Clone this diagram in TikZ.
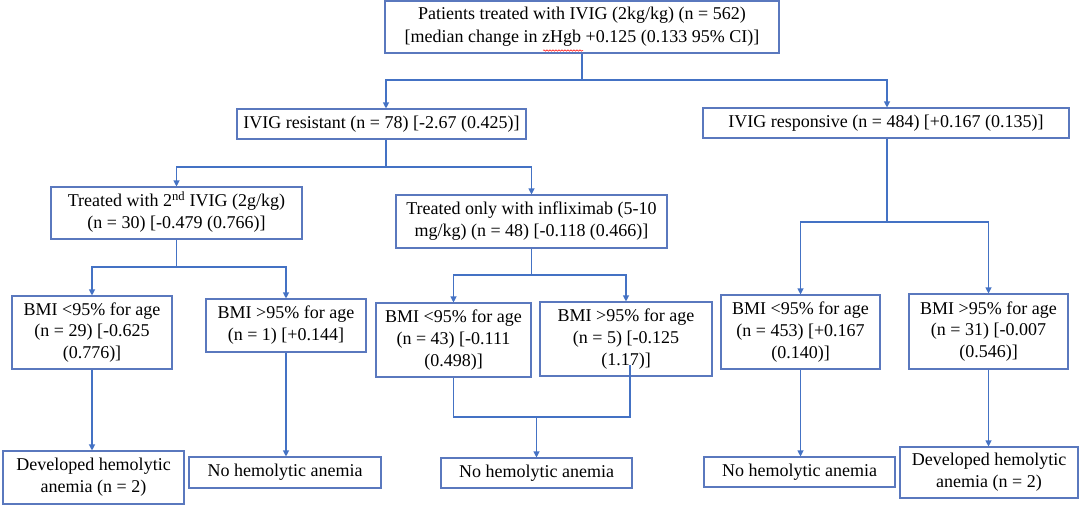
\documentclass[tikz,border=0pt]{standalone}
\usepackage{fontspec}
\setmainfont{Liberation Serif}
\usetikzlibrary{arrows.meta,decorations.pathmorphing}
\definecolor{linec}{RGB}{68,114,196}
\definecolor{boxc}{RGB}{90,120,190}
\newcommand{\mlines}[1]{\begin{tabular}{@{}c@{}}#1\end{tabular}}
\tikzset{
  box/.style={draw=boxc, line width=1.1pt, fill=white, inner sep=0pt,
    font=\fontsize{18}{21.7}\selectfont},
  conn/.style={draw=linec, line width=1.1pt},
  arr/.style={conn, -{Triangle[length=6pt,width=6pt]}}
}
\begin{document}
\begin{tikzpicture}[x=1pt,y=-1pt]
\useasboundingbox (0,0) rectangle (1084,511);
% nodes
\node[box, minimum width=394, minimum height=52] (top) at (582,27)
  {\mlines{Patients treated with IVIG (2kg/kg) (n = 562)\\[1pt]{[}median change in zHgb +0.125 (0.133 95\% CI)]}};
\node[box, minimum width=289, minimum height=30] (res) at (381.5,124)
  {IVIG resistant (n = 78) [-2.67 (0.425)]};
\node[box, minimum width=366, minimum height=30] (resp) at (886,123)
  {IVIG responsive (n = 484) [+0.167 (0.135)]};
\node[box, minimum width=251, minimum height=52] (t2) at (176.5,213)
  {\mlines{Treated with 2\textsuperscript{nd} IVIG (2g/kg)\\(n = 30) [-0.479 (0.766)]}};
\node[box, minimum width=271, minimum height=53] (inf) at (531.5,221.5)
  {\mlines{Treated only with infliximab (5-10\\mg/kg) (n = 48) [-0.118 (0.466)]}};
\node[box, minimum width=160, minimum height=73] (b1) at (92,332.5)
  {\mlines{BMI <95\% for age\\(n = 29) {[}-0.625\\(0.776)]}};
\node[box, minimum width=160, minimum height=53] (b2) at (286,325.5)
  {\mlines{BMI >95\% for age\\(n = 1) [+0.144]}};
\node[box, minimum width=155, minimum height=74] (b3) at (453.5,340)
  {\mlines{BMI <95\% for age\\(n = 43) {[}-0.111\\(0.498)]}};
\node[box, minimum width=172, minimum height=74] (b4) at (626,339)
  {\mlines{BMI >95\% for age\\(n = 5) {[}-0.125\\(1.17)]}};
\node[box, minimum width=159, minimum height=74] (b5) at (800.5,332)
  {\mlines{BMI <95\% for age\\(n = 453) {[}+0.167\\(0.140)]}};
\node[box, minimum width=159, minimum height=75] (b6) at (988.5,331.5)
  {\mlines{BMI >95\% for age\\(n = 31) {[}-0.007\\(0.546)]}};
\node[box, minimum width=181, minimum height=53] (d1) at (93.5,477.5)
  {\mlines{Developed hemolytic\\anemia (n = 2)}};
\node[box, minimum width=192, minimum height=31] (n1) at (285,472.5)
  {No hemolytic anemia};
\node[box, minimum width=191, minimum height=30] (n2) at (536.5,473)
  {No hemolytic anemia};
\node[box, minimum width=191, minimum height=30] (n3) at (799.5,472)
  {No hemolytic anemia};
\node[box, minimum width=178, minimum height=51] (d2) at (989,472.5)
  {\mlines{Developed hemolytic\\anemia (n = 2)}};
% junction coordinates
\coordinate (j1) at (582,80);
\coordinate (j2) at (386,167);
\coordinate (j3) at (176.5,267);
\coordinate (j4) at (531.5,275);
\coordinate (j5) at (887,222);
\coordinate (b4in) at (630,365);
\coordinate (j6) at (536.5,417);
% connectors
\draw[conn] (top.south) -- (j1);
\draw[arr] (j1) -| ([xshift=4.5pt]res.north);
\draw[arr] (j1) -| ([xshift=1pt]resp.north);
\draw[conn] ([xshift=4.5pt]res.south) -- (j2);
\draw[arr] (j2) -| (t2.north);
\draw[arr] (j2) -| (inf.north);
\draw[conn] (t2.south) -- (j3);
\draw[arr] (j3) -| (b1.north);
\draw[arr] (j3) -| (b2.north);
\draw[conn] (inf.south) -- (j4);
\draw[arr] (j4) -| (b3.north);
\draw[arr] (j4) -| (b4.north);
\draw[conn] ([xshift=1pt]resp.south) -- (j5);
\draw[arr] (j5) -| (b5.north);
\draw[arr] (j5) -| (b6.north);
\draw[arr] (b1.south) -- (b1.south |- d1.north);
\draw[arr] (b2.south) -- (b2.south |- n1.north);
\draw[conn] (b3.south) |- (j6);
\draw[conn] (b4in) |- (j6);
\draw[arr] (j6) -- (n2.north);
\draw[arr] (b5.south) -- (b5.south |- n3.north);
\draw[arr] (b6.south) -- (b6.south |- d2.north);
% spell-check underline
\draw[red, line width=0.5pt, decorate, decoration={snake, amplitude=0.7pt, segment length=3pt}] (543,50.5) -- (583,50.5);
\end{tikzpicture}
\end{document}
